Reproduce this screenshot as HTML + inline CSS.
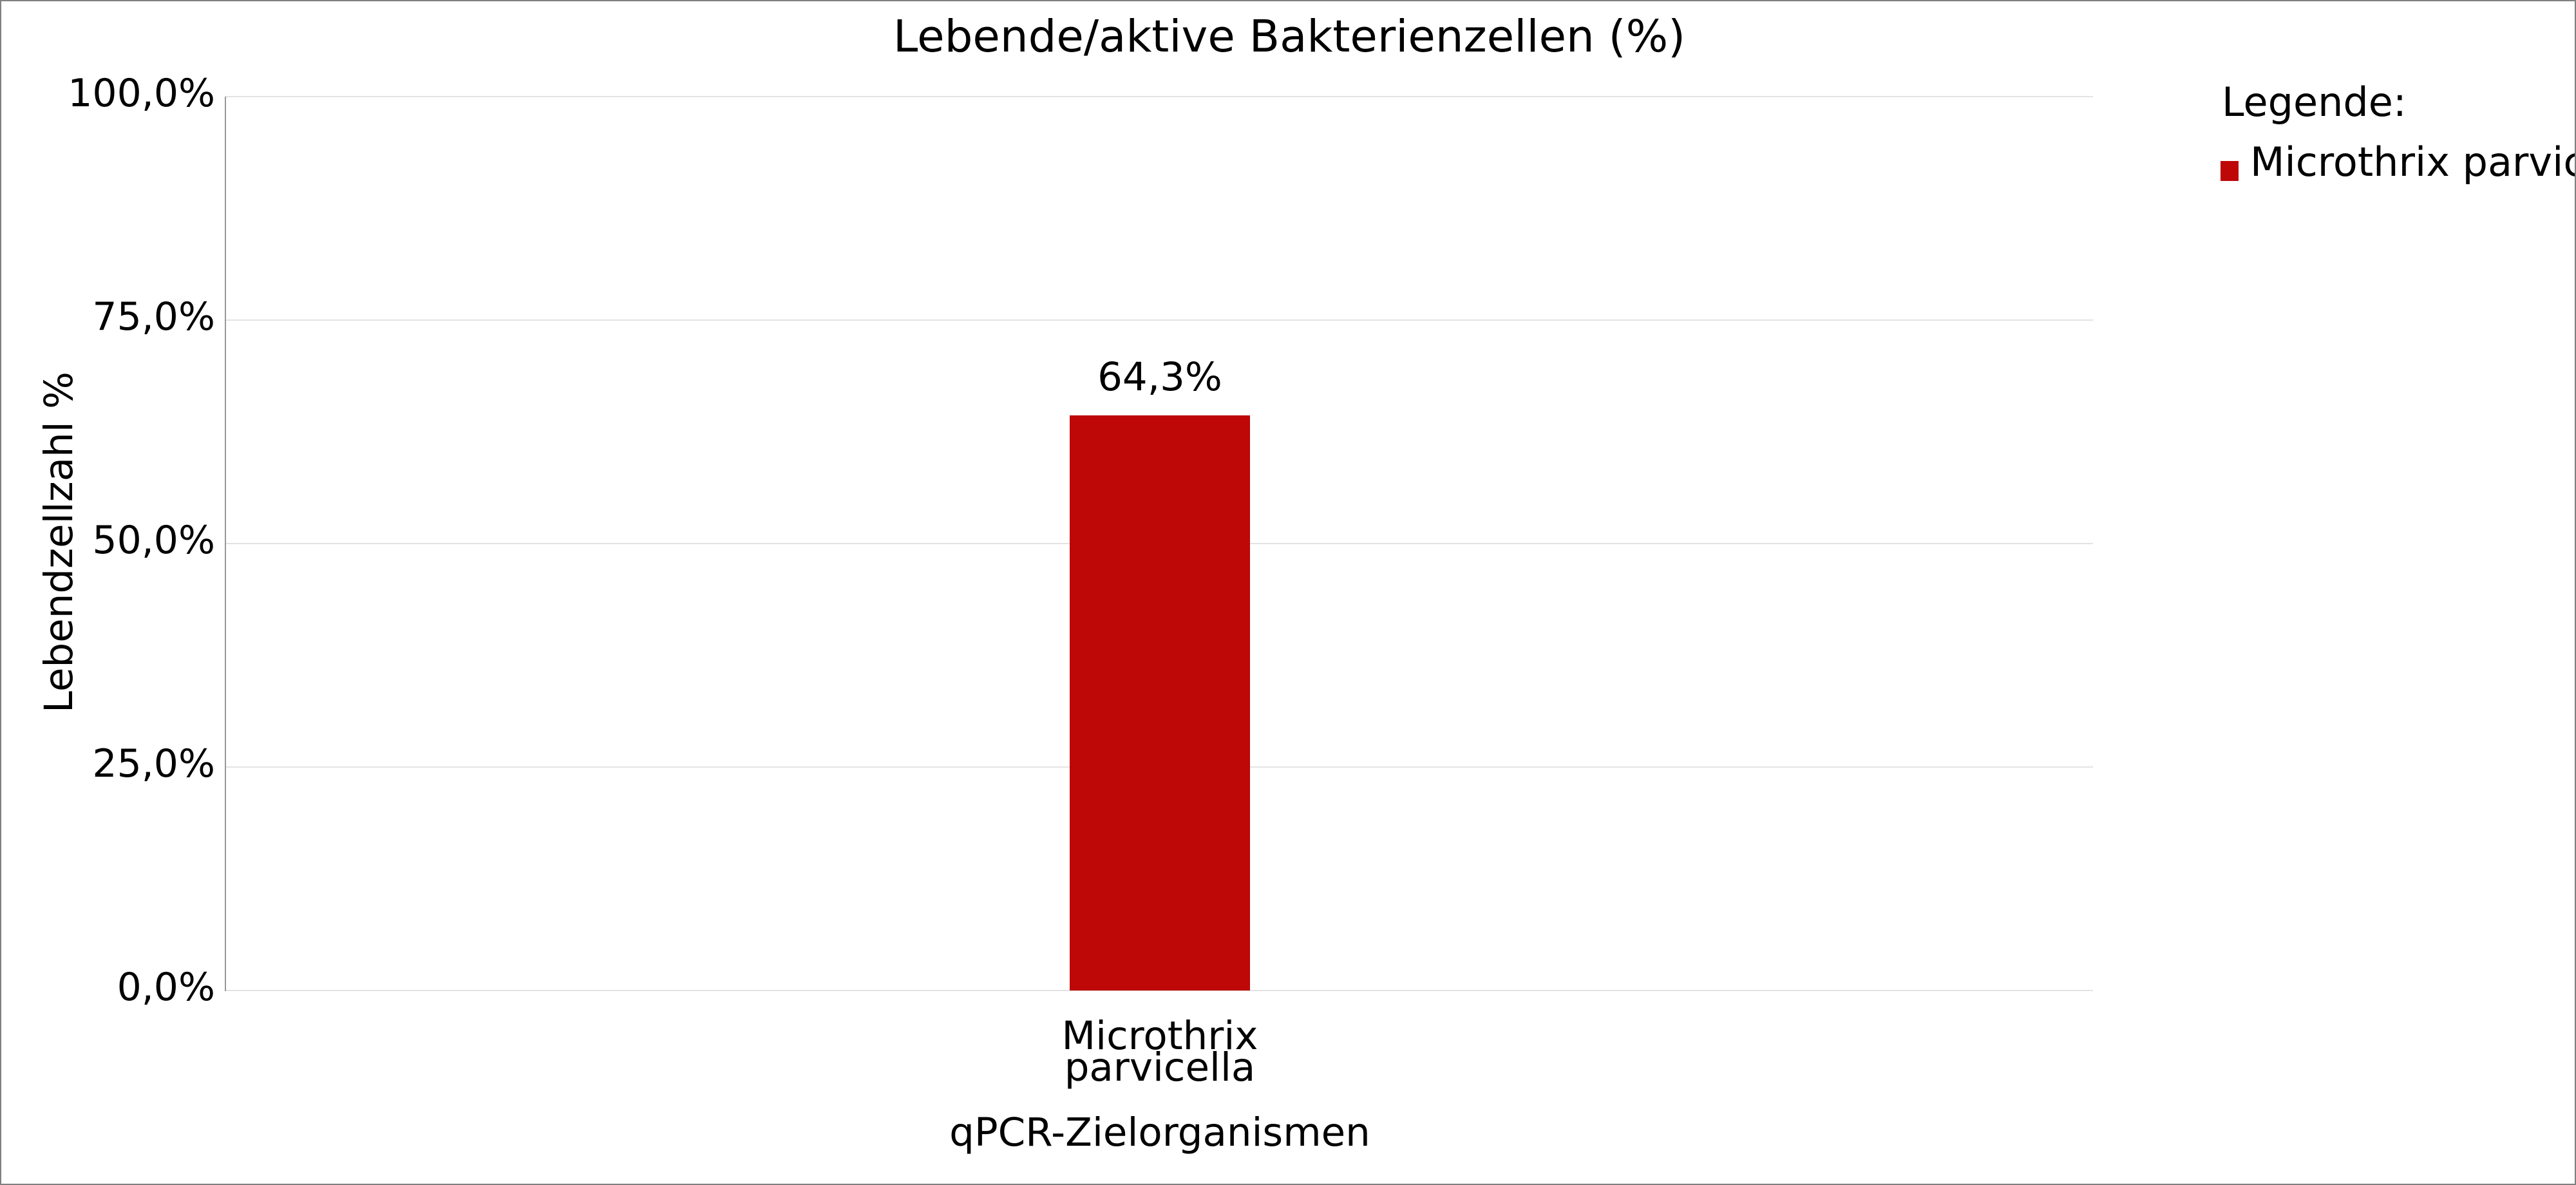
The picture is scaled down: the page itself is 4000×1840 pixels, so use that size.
<!DOCTYPE html>
<html><head><meta charset="utf-8"><style>
html,body{margin:0;padding:0;background:#fff}
svg{display:block}
text{font-family:"DejaVu Sans","Liberation Sans",sans-serif;fill:#000}
</style></head><body>
<svg width="4000" height="1840" viewBox="0 0 4000 1840" xmlns="http://www.w3.org/2000/svg">
<rect x="1" y="1" width="3998" height="1838" fill="#fff" stroke="#808080" stroke-width="2"/>
<text x="2002" y="80" font-size="69" text-anchor="middle">Lebende/aktive Bakterienzellen (%)</text>
<g stroke="#e3e3e3" stroke-width="2">
<line x1="350" y1="150" x2="3250" y2="150"/>
<line x1="350" y1="497" x2="3250" y2="497"/>
<line x1="350" y1="844" x2="3250" y2="844"/>
<line x1="350" y1="1191" x2="3250" y2="1191"/>
<line x1="350" y1="1538" x2="3250" y2="1538"/>
</g>
<line x1="350" y1="150" x2="350" y2="1539" stroke="#999" stroke-width="2"/>
<g font-size="60" text-anchor="end">
<text x="334" y="165">100,0%</text>
<text x="334" y="512">75,0%</text>
<text x="334" y="859">50,0%</text>
<text x="334" y="1206">25,0%</text>
<text x="334" y="1553">0,0%</text>
</g>
<text transform="translate(112,842) rotate(-90)" font-size="61" text-anchor="middle">Lebendzellzahl %</text>
<rect x="1661" y="645" width="280" height="893" fill="#be0707"/>
<text x="1801" y="606" font-size="61" text-anchor="middle">64,3%</text>
<text x="1801" y="1629" font-size="61" text-anchor="middle">Microthrix</text>
<text x="1801" y="1678" font-size="61" text-anchor="middle">parvicella</text>
<text x="1801" y="1779" font-size="61" text-anchor="middle">qPCR-Zielorganismen</text>
<text x="3450" y="180" font-size="62">Legende:</text>
<rect x="3448" y="250" width="28" height="31" fill="#be0707"/>
<text x="3494" y="273" font-size="62">Microthrix parvicella</text>
<rect x="1" y="1" width="3998" height="1838" fill="none" stroke="#808080" stroke-width="2"/>
</svg>
</body></html>
